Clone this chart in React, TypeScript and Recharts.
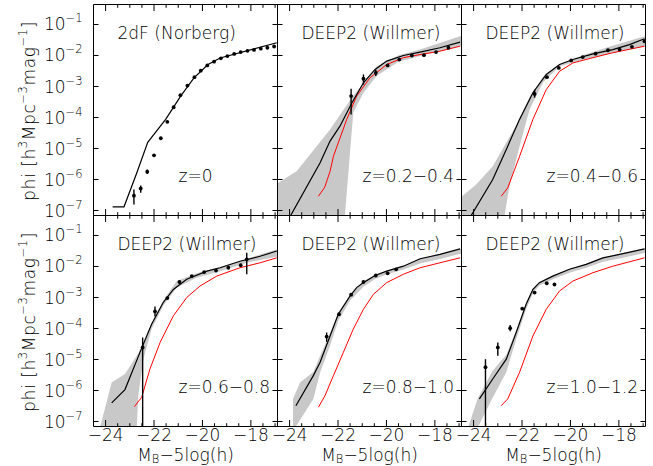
import React from 'react';
import { ComposedChart, Line, Area, Scatter, XAxis, YAxis, ErrorBar } from 'recharts';

const FONT = "'DejaVu Sans', 'Liberation Sans', sans-serif";
const INK = '#000000';
const RED = '#ff0000';
const GREY = '#c8c8c8';

const X_DOMAIN: [number, number] = [-24.5, -16.9];
const LOG_DOMAIN: [number, number] = [-7.161, -0.355];
const X_TICKS = [-24, -23.5, -23, -22.5, -22, -21.5, -21, -20.5, -20, -19.5, -19, -18.5, -18, -17.5, -17];
const X_MAJOR = [-24, -22, -20, -18];
const Y_EXPONENTS = [-7, -6, -5, -4, -3, -2, -1];

const TITLES = ['2dF (Norberg)', 'DEEP2 (Willmer)', 'DEEP2 (Willmer)', 'DEEP2 (Willmer)', 'DEEP2 (Willmer)', 'DEEP2 (Willmer)'];
const Z_LABELS = ['z=0', 'z=0.2\u22120.4', 'z=0.4\u22120.6', 'z=0.6\u22120.8', 'z=0.8\u22121.0', 'z=1.0\u22121.2'];

// ---------- Panel 1: 2dF z=0 ----------
const p1ModelM = [-23.71, -23.24, -22.71, -22.26, -21.52, -20.9, -20.35, -19.77, -19.27, -16.93];
const p1ModelLog = [-6.88, -6.88, -5.78, -4.8, -4.06, -3.31, -2.72, -2.29, -2.08, -1.59];
const p1DotM = [-22.83, -22.55, -22.28, -22.0, -21.72, -21.45, -21.19, -20.91, -20.62, -20.33, -20.07, -19.8, -19.52, -19.24, -18.97, -18.69, -18.42, -18.14, -17.87, -17.59, -17.32, -17.04];
const p1DotLog = [-6.52, -6.29, -5.75, -5.22, -4.67, -4.14, -3.67, -3.28, -2.97, -2.7, -2.49, -2.32, -2.2, -2.09, -2.02, -1.95, -1.89, -1.85, -1.82, -1.78, -1.75, -1.71];
const p1ErrLo = [-6.81, -6.43, -5.82];
const p1ErrHi = [-6.32, -6.19, -5.68];

// ---------- Panel 2: z=0.2-0.4 ----------
const p2BandM = [-24.5, -23.71, -22.33, -21.73, -21.37, -20.95, -20.4, -19.5, -18.61, -16.9];
const p2BandLo = [-9, -9, -9, -7.3, -3.84, -3.2, -2.65, -2.2, -2.02, -1.69];
const p2BandHi = [-6.12, -5.73, -4.39, -3.7, -3.3, -2.89, -2.35, -1.99, -1.81, -1.36];
const p2ModelM = [-24.02, -22.74, -22.33, -21.92, -21.43, -20.95, -20.47, -19.99, -19.3, -18.61, -17.79, -16.96];
const p2ModelLog = [-7.25, -5.46, -4.76, -4.28, -3.53, -2.88, -2.45, -2.18, -2.0, -1.89, -1.75, -1.57];
const p2RedM = [-22.81, -22.55, -22.33, -22.19, -21.64, -21.23, -20.68, -19.99, -19.3, -18.61, -17.79, -16.96];
const p2RedLog = [-6.54, -6.25, -5.74, -5.25, -4.06, -3.31, -2.72, -2.29, -2.07, -1.97, -1.86, -1.7];
const p2DotM = [-21.46, -20.95, -20.44, -19.95, -19.47, -18.95, -18.45, -17.95, -17.44];
const p2DotLog = [-3.31, -2.75, -2.56, -2.32, -2.13, -2.0, -1.99, -1.89, -1.75];
const p2ErrLo = [-3.9, -2.94, -2.66];
const p2ErrHi = [-3.07, -2.61, -2.46];

// ---------- Panel 3: z=0.4-0.6 ----------
const p3BandM = [-24.5, -23.89, -23.21, -22.76, -22.52, -22.1, -21.69, -21.14, -20.45, -19.5, -18.4, -16.9];
const p3BandLo = [-9, -9, -9, -7.35, -6.22, -4.93, -3.74, -2.88, -2.35, -2.14, -1.94, -1.69];
const p3BandHi = [-6.56, -6.16, -5.57, -4.96, -4.63, -4.06, -3.34, -2.7, -2.29, -1.99, -1.72, -1.37];
const p3ModelM = [-24.13, -23.21, -22.65, -22.1, -21.55, -21.0, -20.45, -19.9, -19.07, -18.25, -17.56, -16.94];
const p3ModelLog = [-7.2, -6.0, -5.03, -4.06, -3.2, -2.61, -2.29, -2.13, -1.95, -1.81, -1.65, -1.46];
const p3RedM = [-22.86, -22.59, -22.1, -21.55, -21.0, -20.45, -19.9, -19.07, -18.25, -16.94];
const p3RedLog = [-6.54, -6.27, -5.25, -4.06, -3.1, -2.51, -2.24, -2.07, -1.91, -1.7];
const p3DotM = [-21.48, -20.97, -20.48, -19.97, -19.49, -18.96, -18.45, -17.97, -17.46, -16.94];
const p3DotLog = [-3.24, -2.7, -2.4, -2.16, -2.05, -1.94, -1.83, -1.81, -1.72, -1.54];
const p3ErrLo = [-3.36];
const p3ErrHi = [-3.1];

// ---------- Panel 4: z=0.6-0.8 ----------
const p4BandM = [-24.3, -23.75, -23.2, -22.72, -22.65, -22.44, -22.1, -21.62, -21.06, -20.24, -19.27, -18.17, -17.62, -16.9];
const p4BandLo = [-9, -9, -9, -7.3, -6.17, -4.99, -4.02, -3.27, -2.68, -2.36, -2.15, -1.88, -1.79, -1.68];
const p4BandHi = [-7.4, -5.74, -5.47, -4.89, -4.8, -4.43, -3.82, -3.1, -2.47, -2.22, -2.02, -1.76, -1.61, -1.44];
const p4ModelM = [-23.75, -23.2, -22.58, -22.1, -21.62, -21.2, -20.65, -19.82, -19.27, -18.45, -17.62, -16.93];
const p4ModelLog = [-6.4, -5.97, -4.77, -3.86, -3.16, -2.74, -2.41, -2.15, -2.04, -1.83, -1.67, -1.5];
const p4RedM = [-22.81, -22.51, -22.17, -21.75, -21.2, -20.65, -20.1, -19.41, -18.45, -17.62, -16.93];
const p4RedLog = [-6.52, -6.22, -5.31, -4.45, -3.59, -3.0, -2.63, -2.31, -2.04, -1.88, -1.72];
const p4DotM = [-22.47, -21.96, -21.45, -20.95, -20.44, -19.93, -19.44, -18.93, -18.42, -18.17];
const p4DotLog = [-4.61, -3.45, -3.02, -2.5, -2.31, -2.18, -2.13, -2.04, -1.96, -1.77];
const p4ErrLo = [-7.16, -3.61, null, null, null, null, null, null, null, -2.25];
const p4ErrHi = [-4.29, -3.29, null, null, null, null, null, null, null, -1.56];

// ---------- Panel 5: z=0.8-1.0 ----------
const p5BandM = [-23.86, -23.57, -23.02, -22.74, -22.33, -21.99, -21.5, -20.95, -20.47, -19.99, -19.3, -18.61, -17.79, -16.9];
const p5BandLo = [-7.3, -6.95, -6.27, -5.42, -4.55, -3.75, -3.1, -2.65, -2.4, -2.26, -2.1, -1.9, -1.76, -1.58];
const p5BandHi = [-6.27, -5.74, -5.4, -4.88, -4.15, -3.48, -2.92, -2.49, -2.27, -2.14, -1.98, -1.75, -1.61, -1.42];
const p5ModelM = [-23.74, -23.02, -22.74, -22.33, -21.99, -21.5, -21.23, -20.95, -20.47, -19.99, -19.3, -18.61, -17.79, -16.96];
const p5ModelLog = [-6.49, -5.52, -5.09, -4.24, -3.54, -2.95, -2.68, -2.52, -2.29, -2.15, -1.99, -1.75, -1.61, -1.43];
const p5RedM = [-22.81, -22.54, -22.19, -21.78, -21.37, -20.95, -20.54, -19.99, -19.3, -18.61, -17.79, -16.96];
const p5RedLog = [-6.54, -6.17, -5.52, -4.77, -4.02, -3.38, -2.9, -2.52, -2.25, -2.04, -1.88, -1.72];
const p5DotM = [-22.47, -21.96, -21.46, -20.95, -20.44, -19.95, -19.6];
const p5DotLog = [-4.26, -3.54, -2.91, -2.5, -2.29, -2.22, -2.09];
const p5ErrLo = [-4.43];
const p5ErrHi = [-4.13];

// ---------- Panel 6: z=1.0-1.2 ----------
const p6BandM = [-24.27, -23.83, -23.22, -22.65, -22.24, -21.83, -21.55, -21.28, -20.73, -20.04, -19.35, -18.66, -17.97, -16.9];
const p6BandLo = [-7.3, -7.2, -6.24, -5.41, -4.35, -3.38, -2.86, -2.61, -2.41, -2.2, -2.04, -1.85, -1.74, -1.56];
const p6BandHi = [-7.3, -6.25, -5.37, -4.85, -4.05, -3.17, -2.71, -2.49, -2.29, -2.07, -1.91, -1.71, -1.59, -1.41];
const p6ModelM = [-23.76, -23.21, -22.65, -22.24, -21.83, -21.55, -21.28, -20.73, -20.04, -19.35, -18.66, -17.97, -16.94];
const p6ModelLog = [-6.27, -5.63, -4.99, -4.13, -3.22, -2.74, -2.52, -2.31, -2.09, -1.93, -1.72, -1.61, -1.43];
const p6RedM = [-22.86, -22.59, -22.1, -21.55, -21.0, -20.45, -19.9, -19.07, -18.25, -16.94];
const p6RedLog = [-6.49, -6.27, -5.41, -4.24, -3.38, -2.79, -2.47, -2.2, -1.99, -1.72];
const p6DotM = [-23.51, -23.0, -22.49, -21.99, -21.48, -20.98, -20.66];
const p6DotLog = [-5.25, -4.61, -3.99, -3.36, -2.84, -2.54, -2.58];
const p6ErrLo = [-7.16, -4.88, -4.09];
const p6ErrHi = [-4.99, -4.45, -3.89];

type Pt = { x: number; y: number };
type BandPt = { x: number; r: [number, number] };
type DotPt = { x: number; y: number; e?: [number, number] };

const pts = (m: number[], l: number[]): Pt[] => m.map((x, i) => ({ x, y: Math.pow(10, l[i]) }));
const bandPts = (m: number[], lo: number[], hi: number[]): BandPt[] =>
  m.map((x, i) => ({ x, r: [Math.pow(10, lo[i]), Math.pow(10, hi[i])] as [number, number] }));
const dotPts = (m: number[], l: number[], eLo: (number | null)[], eHi: (number | null)[]): DotPt[] =>
  m.map((x, i) => {
    const y = Math.pow(10, l[i]);
    const lo = eLo[i];
    const hi = eHi[i];
    if (lo == null || hi == null) return { x, y };
    return { x, y, e: [y - Math.pow(10, lo), Math.pow(10, hi) - y] as [number, number] };
  });

type PanelData = {
  band?: BandPt[];
  model: Pt[];
  red?: Pt[];
  dots: DotPt[];
};

const PANELS: PanelData[] = [
  { model: pts(p1ModelM, p1ModelLog), dots: dotPts(p1DotM, p1DotLog, p1ErrLo, p1ErrHi) },
  { band: bandPts(p2BandM, p2BandLo, p2BandHi), model: pts(p2ModelM, p2ModelLog), red: pts(p2RedM, p2RedLog), dots: dotPts(p2DotM, p2DotLog, p2ErrLo, p2ErrHi) },
  { band: bandPts(p3BandM, p3BandLo, p3BandHi), model: pts(p3ModelM, p3ModelLog), red: pts(p3RedM, p3RedLog), dots: dotPts(p3DotM, p3DotLog, p3ErrLo, p3ErrHi) },
  { band: bandPts(p4BandM, p4BandLo, p4BandHi), model: pts(p4ModelM, p4ModelLog), red: pts(p4RedM, p4RedLog), dots: dotPts(p4DotM, p4DotLog, p4ErrLo, p4ErrHi) },
  { band: bandPts(p5BandM, p5BandLo, p5BandHi), model: pts(p5ModelM, p5ModelLog), red: pts(p5RedM, p5RedLog), dots: dotPts(p5DotM, p5DotLog, p5ErrLo, p5ErrHi) },
  { band: bandPts(p6BandM, p6BandLo, p6BandHi), model: pts(p6ModelM, p6ModelLog), red: pts(p6RedM, p6RedLog), dots: dotPts(p6DotM, p6DotLog, p6ErrLo, p6ErrHi) },
];

const W = 653;
const H = 466;
const COL_LEFT = [93.5, 277.5, 461.5];
const ROW_TOP = [4.5, 215.5];
const PW = 184;
const PH = 211;

const textStyle = { fontFamily: FONT, fontSize: 17, fontWeight: 200, fill: INK } as const;

const BottomTick = (props: any) => {
  const { x, y, payload, showLabel } = props;
  const v = payload.value as number;
  const major = X_MAJOR.includes(v);
  return (
    <g>
      <line x1={x} x2={x} y1={y} y2={y - (major ? 6.5 : 3.3)} stroke={INK} strokeWidth={1} />
      {showLabel && major ? (
        <text x={x} y={y + 14} textAnchor="middle" {...textStyle}>
          {'\u2212' + Math.abs(v)}
        </text>
      ) : null}
    </g>
  );
};

const TopTick = (props: any) => {
  const { x, y, payload } = props;
  const major = X_MAJOR.includes(payload.value as number);
  return <line x1={x} x2={x} y1={y} y2={y + (major ? 6.5 : 3.3)} stroke={INK} strokeWidth={1} />;
};

const LeftTick = (props: any) => {
  const { x, y, payload, showLabel } = props;
  const exp = Math.round(Math.log10(payload.value as number));
  return (
    <g>
      <line x1={x} x2={x + 5} y1={y} y2={y} stroke={INK} strokeWidth={1} />
      {showLabel ? (
        <text x={x - 11} y={y + 6} textAnchor="end" {...textStyle}>
          10
          <tspan fontSize={11.5} dy={-8}>
            {'\u2212' + Math.abs(exp)}
          </tspan>
        </text>
      ) : null}
    </g>
  );
};

const RightTick = (props: any) => {
  const { x, y } = props;
  return <line x1={x} x2={x - 5} y1={y} y2={y} stroke={INK} strokeWidth={1} />;
};

const Dot = (props: any) => {
  const { cx, cy } = props;
  if (cx == null || cy == null) return <g />;
  return <circle cx={cx} cy={cy} r={1.9} fill={INK} />;
};

const Panel = ({ idx }: { idx: number }) => {
  const col = idx % 3;
  const row = Math.floor(idx / 3);
  const left = COL_LEFT[col];
  const top = ROW_TOP[row];
  const right = left + PW;
  const bottom = top + PH;
  const d = PANELS[idx];
  const yTicks = Y_EXPONENTS.map((e) => Math.pow(10, e));
  const yDomain: [number, number] = [Math.pow(10, LOG_DOMAIN[0]), Math.pow(10, LOG_DOMAIN[1])];

  const titleLabel = () => (
    <g>
      <text x={left + 24} y={top + 34} {...textStyle}>
        {TITLES[idx]}
      </text>
      <text x={left + 85} y={top + 177} {...textStyle}>
        {Z_LABELS[idx]}
      </text>
    </g>
  );

  const xTitle = () => (
    <text x={left + PW / 2} y={460.5} textAnchor="middle" {...textStyle}>
      M
      <tspan fontSize={11.5} dy={2.5}>
        B
      </tspan>
      <tspan dy={-2.5}>{'\u22125log(h)'}</tspan>
    </text>
  );

  const cy = top + PH / 2 + 1;
  const yTitle = () => (
    <text transform={`translate(35, ${cy}) rotate(-90)`} textAnchor="middle" {...textStyle} letterSpacing={0.6}>
      {'phi [h'}
      <tspan fontSize={11.5} dy={-8}>3</tspan>
      <tspan dy={8}>Mpc</tspan>
      <tspan fontSize={11.5} dy={-8}>{'\u22123'}</tspan>
      <tspan dy={8}>mag</tspan>
      <tspan fontSize={11.5} dy={-8}>{'\u22121'}</tspan>
      <tspan dy={8}>]</tspan>
    </text>
  );

  return (
    <div style={{ position: 'absolute', left: 0, top: 0 }}>
      <ComposedChart
        width={W}
        height={H}
        margin={{ top: top - 1, left: left - 1, right: W - right - 1, bottom: H - bottom - 1 }}
      >
        <XAxis
          xAxisId="b"
          dataKey="x"
          type="number"
          orientation="bottom"
          domain={X_DOMAIN}
          allowDataOverflow
          ticks={X_TICKS}
          interval={0}
          height={1}
          tickSize={0}
          tickMargin={0}
          tickLine={false}
          axisLine={{ stroke: INK, strokeWidth: 1 }}
          tick={(p: any) => <BottomTick {...p} showLabel={row === 1} />}
          label={row === 1 ? xTitle : undefined}
        />
        <XAxis
          xAxisId="t"
          dataKey="x"
          type="number"
          orientation="top"
          domain={X_DOMAIN}
          allowDataOverflow
          ticks={X_TICKS}
          interval={0}
          height={1}
          tickSize={0}
          tickMargin={0}
          tickLine={false}
          axisLine={{ stroke: INK, strokeWidth: 1 }}
          tick={(p: any) => <TopTick {...p} />}
          label={titleLabel}
        />
        <YAxis
          yAxisId="l"
          type="number"
          scale="log"
          orientation="left"
          domain={yDomain}
          allowDataOverflow
          ticks={yTicks}
          interval={0}
          width={1}
          tickSize={0}
          tickMargin={0}
          tickLine={false}
          axisLine={{ stroke: INK, strokeWidth: 1 }}
          tick={(p: any) => <LeftTick {...p} showLabel={col === 0} />}
          label={col === 0 ? yTitle : undefined}
        />
        <YAxis
          yAxisId="r"
          type="number"
          scale="log"
          orientation="right"
          domain={yDomain}
          allowDataOverflow
          ticks={yTicks}
          interval={0}
          width={1}
          tickSize={0}
          tickMargin={0}
          tickLine={false}
          axisLine={{ stroke: INK, strokeWidth: 1 }}
          tick={(p: any) => <RightTick {...p} />}
        />
        {d.band ? (
          <Area
            data={d.band}
            dataKey="r"
            xAxisId="b"
            yAxisId="l"
            type="linear"
            stroke="none"
            fill={GREY}
            fillOpacity={1}
            isAnimationActive={false}
            activeDot={false}
            dot={false}
          />
        ) : null}
        {d.red ? (
          <Line
            data={d.red}
            dataKey="y"
            xAxisId="b"
            yAxisId="l"
            type="linear"
            stroke={RED}
            strokeWidth={1}
            dot={false}
            activeDot={false}
            isAnimationActive={false}
          />
        ) : null}
        <Line
          data={d.model}
          dataKey="y"
          xAxisId="b"
          yAxisId="l"
          type="linear"
          stroke={INK}
          strokeWidth={1.2}
          dot={false}
          activeDot={false}
          isAnimationActive={false}
        />
        <Scatter data={d.dots} dataKey="y" xAxisId="b" yAxisId="l" shape={Dot} isAnimationActive={false}>
          <ErrorBar dataKey="e" direction="y" width={0} stroke={INK} strokeWidth={1.4} />
        </Scatter>
      </ComposedChart>
    </div>
  );
}

export default function App() {
  return (
    <div style={{ position: 'absolute', left: 0, top: 0, width: W, height: H, background: '#ffffff' }}>
      {[0, 1, 2, 3, 4, 5].map((i) => (
        <Panel key={i} idx={i} />
      ))}
    </div>
  );
}
